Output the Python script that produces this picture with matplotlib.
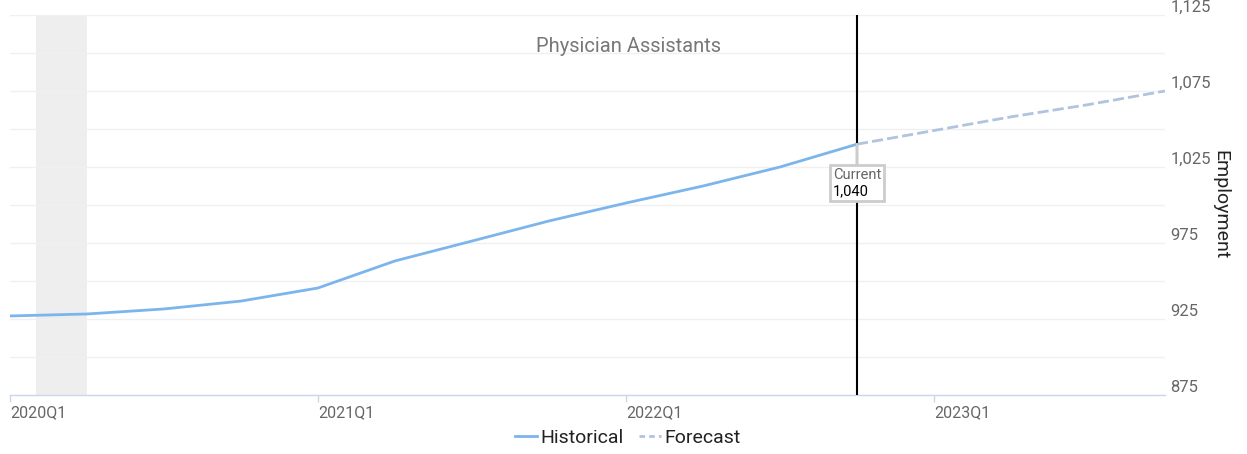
import matplotlib
matplotlib.use("Agg")
import matplotlib.pyplot as plt
from matplotlib.offsetbox import AnnotationBbox, TextArea, VPacker
from matplotlib.lines import Line2D

plt.rcParams['font.family'] = ['Roboto', 'DejaVu Sans']

# ---- data ----
quarters = ["2020Q1", "2020Q2", "2020Q3", "2020Q4",
            "2021Q1", "2021Q2", "2021Q3", "2021Q4",
            "2022Q1", "2022Q2", "2022Q3", "2022Q4",
            "2023Q1", "2023Q2", "2023Q3", "2023Q4"]
historical = [927, 928.3, 931.6, 936.8, 945.4, 963.2, 976.3, 989.5,
              1001.3, 1012.5, 1025, 1040]
forecast = [1040, 1049, 1058, 1066, 1075]
current_index = 11
current_value = 1040
recession_start = 0.34
recession_end = 1.0
title = "Physician Assistants"
y_label = "Employment"
tick_quarters = ["2020Q1", "2021Q1", "2022Q1", "2023Q1"]

W, H = 1247, 454
fig = plt.figure(figsize=(W / 100, H / 100), dpi=100)
ax = fig.add_axes([10 / W, 1 - 395 / H, 1155 / W, 380 / H])

hist_x = list(range(len(historical)))
fc_x = list(range(current_index, current_index + len(forecast)))

ax.axvspan(recession_start, recession_end, color='#eeeeee', zorder=0, lw=0)
ax.plot(hist_x, historical, color='#7cb5ec', lw=2, zorder=3, solid_capstyle='round')
ax.plot(fc_x, forecast, color='#b0c4de', lw=2, ls=(0, (4, 1.5)), zorder=3)
ax.axvline(current_index, color='black', lw=1.5, zorder=4)

ax.set_xlim(0, len(quarters) - 1)
ax.set_ylim(875, 1125)

# y axis
major = list(range(875, 1126, 50))
minor = list(range(900, 1126, 50))
ax.set_yticks(major)
ax.set_yticklabels([f"{v:,}" for v in major])
ax.set_yticks(minor, minor=True)
ax.yaxis.tick_right()
ax.tick_params(axis='y', which='both', length=0, pad=4, labelsize=12, labelcolor='#666666')
for lab in ax.get_yticklabels():
    lab.set_va('bottom')
ax.grid(axis='y', which='both', color='#f0f0f0', lw=1, zorder=0)
ax.yaxis.set_label_position('right')
ax.set_ylabel(y_label, rotation=270, fontsize=14, color='#222222', labelpad=0, va='bottom')

# x axis
ax.set_xticks([quarters.index(q) for q in tick_quarters])
ax.set_xticklabels(tick_quarters)
for lab in ax.get_xticklabels():
    lab.set_ha('left')
ax.tick_params(axis='x', length=5, color='#ccd6eb', width=1, pad=2, labelsize=11.5, labelcolor='#666666')

for s in ['top', 'left', 'right']:
    ax.spines[s].set_visible(False)
ax.spines['bottom'].set_color('#ccd6eb')
ax.spines['bottom'].set_linewidth(1)

# title
fig.text(628 / W, 1 - 47 / H, title, ha='center', va='center', fontsize=14.5, color='#777777')

# current annotation
ta1 = TextArea("Current", textprops=dict(color='#666666', fontsize=10.5))
ta2 = TextArea(f"{current_value:,}", textprops=dict(color='black', fontsize=10.5))
pack = VPacker(children=[ta1, ta2], align='left', pad=0, sep=2)
ab = AnnotationBbox(pack, (current_index, current_value), xybox=(0, -28),
                    xycoords='data', boxcoords='offset points',
                    bboxprops=dict(edgecolor='#cccccc', facecolor='white', lw=2, boxstyle='square,pad=0.2'),
                    pad=0.1,
                    arrowprops=dict(arrowstyle='-', color='#cccccc', lw=2, shrinkA=0, shrinkB=0),
                    zorder=6)
ax.add_artist(ab)

# legend
handles = [Line2D([], [], color='#7cb5ec', lw=2),
           Line2D([], [], color='#b0c4de', lw=2, ls=(0, (2, 1.5)))]
fig.legend(handles, ['Historical', 'Forecast'], loc='center', bbox_to_anchor=(628 / W, 1 - 438 / H),
           ncol=2, frameon=False, fontsize=14, handlelength=1.1, handletextpad=0.2,
           columnspacing=0.8, labelcolor='#222222')

fig.savefig('out.png', dpi=100)
